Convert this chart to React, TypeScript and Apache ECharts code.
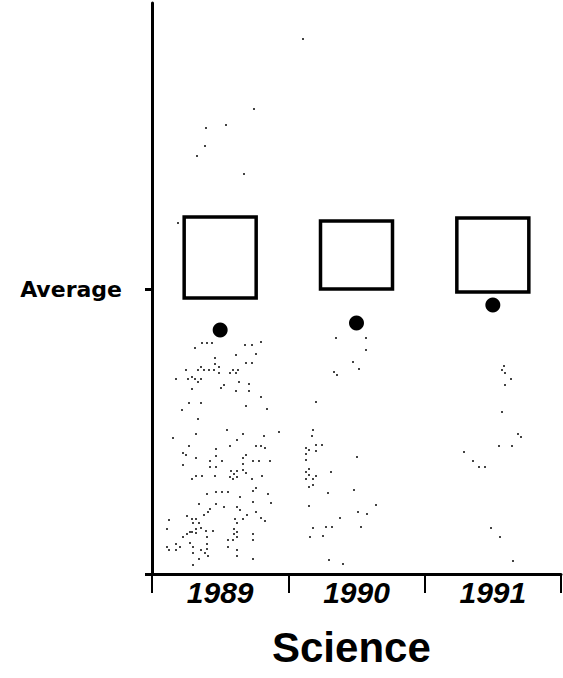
import React, { useEffect, useRef } from "react";
import * as echarts from "echarts";

// Categories (years)
const years = ["1989", "1990", "1991"];
// Box ranges per year: [low, high] on the score scale
const boxLow = [276, 285, 282];
const boxHigh = [357, 353, 356];
// Mean per year
const means = [244, 251, 269];
// Y-axis reference value and its label
const yTickValues = [0, 285];
const yLabelValues = [285];
const yLabelTexts = ["Average"];
// Title
const titleText = "Science";

// Individual scores: [jitter position, score]
const pointsUpper: number[][] = [
  [151, 535], [102, 465], [74, 449], [54, 446], [53, 428], [45, 418], [92, 400], [26, 351],
];
const points1989: number[][] = [
  [50, 231], [55, 231], [60, 231], [43, 226], [93, 229], [100, 229], [109, 232], [84, 219],
  [104, 220], [63, 216], [94, 211], [100, 211], [63, 210], [67, 207], [49, 207], [34, 204],
  [46, 204], [52, 204], [57, 204], [62, 204], [81, 204], [86, 204], [78, 201], [84, 201],
  [67, 201], [40, 197], [49, 195], [24, 195], [36, 195], [43, 195], [46, 192], [87, 192],
  [72, 189], [69, 186], [97, 190], [40, 185], [84, 183], [97, 183], [109, 177], [37, 171],
  [49, 171], [94, 168], [115, 165], [30, 164], [46, 155], [75, 144], [127, 142], [44, 140],
  [91, 140], [112, 138], [21, 136], [85, 134], [37, 128], [78, 128], [104, 128], [109, 128],
  [113, 126], [64, 125], [31, 121], [34, 119], [64, 118], [94, 119], [91, 116], [44, 116],
  [58, 113], [70, 113], [101, 113], [107, 113], [118, 113], [91, 110], [31, 109], [58, 107],
  [64, 107], [79, 103], [85, 103], [94, 101], [82, 100], [91, 104], [44, 98], [50, 98],
  [63, 98], [78, 97], [85, 97], [110, 98], [40, 95], [81, 95], [100, 95], [64, 82],
  [70, 82], [76, 82], [101, 83], [104, 86], [55, 80], [116, 80], [88, 77], [101, 72],
  [47, 70], [64, 70], [72, 67], [85, 67], [119, 71], [58, 65], [56, 62], [104, 62],
  [88, 64], [52, 59], [95, 59], [35, 58], [91, 55], [83, 55], [109, 56], [113, 53],
  [44, 55], [40, 55], [17, 54], [85, 51], [47, 51], [41, 51], [15, 45], [49, 46],
  [44, 45], [40, 42], [82, 45], [61, 43], [54, 43], [35, 40], [38, 42], [44, 41],
  [82, 40], [85, 42], [101, 40], [31, 37], [55, 37], [85, 37], [76, 34], [81, 34],
  [101, 34], [38, 31], [24, 30], [15, 27], [41, 27], [55, 30], [55, 25], [17, 24],
  [24, 24], [28, 27], [49, 24], [53, 21], [85, 24], [76, 27], [41, 21], [56, 18],
  [85, 18], [47, 15], [101, 15], [41, 9],
];
const points1990: number[][] = [
  [184, 236], [214, 236], [214, 224], [201, 212], [207, 205], [182, 202], [185, 199],
  [164, 172], [161, 144], [160, 138], [164, 129], [170, 129], [154, 126], [157, 124],
  [164, 123], [154, 120], [205, 117], [154, 114], [157, 105], [154, 102], [157, 99],
  [164, 98], [179, 102], [154, 95], [161, 95], [161, 89], [157, 87], [176, 81], [202, 84],
  [157, 68], [224, 69], [206, 62], [215, 60], [188, 56], [161, 46], [174, 47], [180, 47],
  [209, 47], [158, 37], [171, 38], [177, 14], [191, 10],
];
const points1991: number[][] = [
  [352, 208], [350, 204], [353, 201], [359, 195], [353, 189], [350, 162], [366, 140],
  [369, 137], [347, 128], [360, 128], [312, 122], [321, 113], [327, 107], [333, 107],
  [339, 46], [348, 37], [361, 13],
];

export default function App() {
  const ref = useRef<HTMLDivElement>(null);
  useEffect(() => {
    if (!ref.current) return;
    const chart = echarts.init(ref.current, null, { renderer: "svg" });
    const speckle = (data: number[][]) => ({
      type: "scatter",
      xAxisIndex: 1,
      yAxisIndex: 0,
      symbol: "rect",
      symbolSize: 2,
      itemStyle: { color: "#444", opacity: 1 },
      silent: true,
      data,
    });
    chart.setOption({
      animation: false,
      backgroundColor: "#fff",
      title: {
        text: titleText,
        left: 272,
        top: 626,
        padding: 0,
        textStyle: {
          fontFamily: "Liberation Sans",
          fontWeight: "bold",
          fontSize: 42,
          color: "#000",
        },
      },
      grid: { left: 152, right: 2, top: 3, bottom: 104, containLabel: false },
      xAxis: [
        {
          type: "category",
          data: years,
          boundaryGap: true,
          axisLine: { show: true, lineStyle: { color: "#000", width: 3 } },
          axisTick: { show: true, alignWithLabel: false, length: 19, lineStyle: { color: "#000", width: 2 } },
          axisLabel: {
            margin: 3,
            color: "#000",
            fontFamily: "Liberation Sans",
            fontStyle: "italic",
            fontWeight: "bold",
            fontSize: 30,
          },
          splitLine: { show: false },
        },
        { type: "value", min: 0, max: 409, show: false },
      ],
      yAxis: {
        type: "value",
        min: 0,
        max: 571,
        axisLine: { show: true, lineStyle: { color: "#000", width: 3 } },
        axisTick: { show: true, customValues: yTickValues, length: 7, lineStyle: { color: "#000", width: 3 } },
        axisLabel: {
          customValues: yLabelValues,
          formatter: (v: number) => {
            const i = yLabelValues.indexOf(v);
            return i >= 0 ? yLabelTexts[i] : "";
          },
          margin: 30,
          color: "#000",
          fontFamily: "DejaVu Sans",
          fontWeight: "bold",
          fontSize: 22,
        },
        splitLine: { show: false },
      },
      series: [
        speckle(pointsUpper),
        speckle(points1989),
        speckle(points1990),
        speckle(points1991),
        {
          type: "custom",
          xAxisIndex: 0,
          yAxisIndex: 0,
          data: years.map((_, i) => [i, boxLow[i], boxHigh[i]]),
          renderItem: (params: any, api: any) => {
            const lo = api.coord([api.value(0), api.value(1)]);
            const hi = api.coord([api.value(0), api.value(2)]);
            const half = 36;
            return {
              type: "rect",
              shape: { x: lo[0] - half, y: hi[1], width: half * 2, height: lo[1] - hi[1] },
              style: { fill: "none", stroke: "#000", lineWidth: 3.5 },
            };
          },
        },
        {
          type: "scatter",
          xAxisIndex: 0,
          yAxisIndex: 0,
          symbol: "circle",
          symbolSize: 15,
          itemStyle: { color: "#000", opacity: 1 },
          data: means,
        },
      ],
    });
    return () => chart.dispose();
  }, []);
  return (
    <div
      ref={ref}
      style={{ position: "fixed", left: 0, top: 0, width: 563, height: 678, background: "#fff" }}
    />
  );
}
